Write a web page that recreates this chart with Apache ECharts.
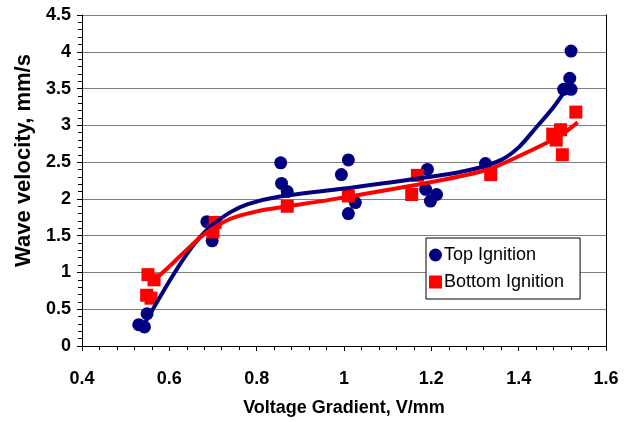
<!DOCTYPE html>
<html>
<head>
<meta charset="utf-8">
<script src="https://cdn.jsdelivr.net/npm/echarts@6/dist/echarts.min.js"></script>
<style>
html,body{margin:0;padding:0;background:#fff;}
#chart{width:628px;height:422px;}
</style>
</head>
<body>
<div id="chart"></div>
<script>
// Top Ignition measured points
var topX = [0.530, 0.543, 0.549, 0.686, 0.698, 0.855, 0.857, 0.870, 0.994, 1.010, 1.026, 1.010, 1.187, 1.191, 1.198, 1.212, 1.324, 1.503, 1.520, 1.517, 1.520];
var topY = [0.29, 0.26, 0.44, 1.69, 1.43, 2.49, 2.21, 2.10, 2.33, 2.53, 1.95, 1.80, 2.13, 2.40, 1.97, 2.06, 2.48, 3.49, 3.49, 3.64, 4.01];
// Bottom Ignition measured points
var bottomX = [0.548, 0.551, 0.558, 0.565, 0.700, 0.705, 0.870, 1.010, 1.155, 1.168, 1.336, 1.478, 1.486, 1.496, 1.500, 1.531];
var bottomY = [0.69, 0.97, 0.65, 0.90, 1.55, 1.68, 1.90, 2.04, 2.06, 2.32, 2.33, 2.88, 2.80, 2.94, 2.60, 3.18];
// Trend curves
var topFitX = [0.535, 0.60, 0.64, 0.67, 0.70, 0.74, 0.78, 0.85, 1.00, 1.21, 1.30, 1.36, 1.40, 1.44, 1.48, 1.512];
var topFitY = [0.22, 0.88, 1.25, 1.48, 1.65, 1.82, 1.93, 2.03, 2.14, 2.31, 2.41, 2.53, 2.70, 2.97, 3.25, 3.52];
var bottomFitX = [0.555, 0.60, 0.64, 0.68, 0.74, 0.80, 0.85, 0.97, 1.21, 1.33, 1.40, 1.46, 1.50, 1.535];
var bottomFitY = [0.84, 1.08, 1.31, 1.52, 1.73, 1.83, 1.88, 1.99, 2.24, 2.40, 2.58, 2.75, 2.88, 3.04];
// Axis ticks
var xTicks = {min: 0.4, max: 1.6, interval: 0.2};
var yTicks = {min: 0, max: 4.5, interval: 0.5};
var seriesNames = ['Top Ignition', 'Bottom Ignition'];
var xTitle = 'Voltage Gradient, V/mm';
var yTitle = 'Wave velocity, mm/s';

function pairs(xs, ys) { return xs.map(function (x, i) { return [x, ys[i]]; }); }

var FONT = '"Liberation Sans", Arial, sans-serif';
var chart = echarts.init(document.getElementById('chart'), null, {renderer: 'canvas'});
chart.setOption({
  animation: false,
  backgroundColor: '#fff',
  textStyle: {fontFamily: FONT},
  grid: {left: 82, top: 15, right: 22, bottom: 75, containLabel: false},
  legend: {
    data: [
      {name: seriesNames[0], icon: 'circle'},
      {name: seriesNames[1], icon: 'rect'}
    ],
    orient: 'vertical',
    left: 426, top: 238,
    itemWidth: 13, itemHeight: 13, itemGap: 9,
    padding: [8, 16, 8, 3],
    backgroundColor: '#fff',
    borderColor: '#000', borderWidth: 1, borderRadius: 0,
    textStyle: {fontFamily: FONT, fontSize: 18, color: '#000', padding: [0, 0, 0, -3]}
  },
  xAxis: {
    type: 'value', min: xTicks.min, max: xTicks.max, interval: xTicks.interval,
    name: xTitle, nameLocation: 'middle', nameGap: 53,
    nameTextStyle: {fontFamily: FONT, fontSize: 18, fontWeight: 'bold', color: '#000'},
    axisLine: {show: true, onZero: false, lineStyle: {color: '#000', width: 1}},
    axisTick: {show: true, length: 5, lineStyle: {color: '#000'}},
    minorTick: {show: true, splitNumber: 5, length: 4, lineStyle: {color: '#000'}},
    splitLine: {show: false},
    axisLabel: {fontFamily: FONT, fontSize: 18, fontWeight: 'bold', color: '#000', margin: 24,
      formatter: function (v) { return String(Math.round(v * 10) / 10); }}
  },
  yAxis: [{
    type: 'value', min: yTicks.min, max: yTicks.max, interval: yTicks.interval,
    name: yTitle, nameLocation: 'middle', nameGap: 45, nameRotate: 90,
    nameTextStyle: {fontFamily: FONT, fontSize: 22, fontWeight: 'bold', color: '#000', padding: [0, 0, 0, 40]},
    axisLine: {show: true, lineStyle: {color: '#000', width: 1}},
    axisTick: {show: true, length: 5, lineStyle: {color: '#000'}},
    minorTick: {show: true, splitNumber: 5, length: 4, lineStyle: {color: '#000'}},
    splitLine: {show: true, lineStyle: {color: '#808080', width: 1}},
    axisLabel: {fontFamily: FONT, fontSize: 18, fontWeight: 'bold', color: '#000', margin: 11,
      formatter: function (v) { return String(Math.round(v * 10) / 10); }}
  }, {
    type: 'value', min: yTicks.min, max: yTicks.max, interval: yTicks.interval, position: 'right',
    axisLine: {show: true, lineStyle: {color: '#000', width: 1}},
    axisTick: {show: false}, axisLabel: {show: false}, splitLine: {show: false}
  }],
  series: [
    {name: seriesNames[0], type: 'scatter', data: pairs(topX, topY), symbol: 'circle', symbolSize: 13,
      itemStyle: {color: '#000080', opacity: 1}, z: 2},
    {name: seriesNames[1], type: 'scatter', data: pairs(bottomX, bottomY), symbol: 'rect', symbolSize: 13,
      itemStyle: {color: '#ff0000', opacity: 1}, z: 2},
    {name: 'topFit', type: 'line', data: pairs(topFitX, topFitY), smooth: 0.3,
      showSymbol: false, symbol: 'none', lineStyle: {color: '#000080', width: 4}, z: 3, silent: true},
    {name: 'bottomFit', type: 'line', data: pairs(bottomFitX, bottomFitY), smooth: 0.3,
      showSymbol: false, symbol: 'none', lineStyle: {color: '#ff0000', width: 4}, z: 4, silent: true}
  ]
});
</script>
</body>
</html>
